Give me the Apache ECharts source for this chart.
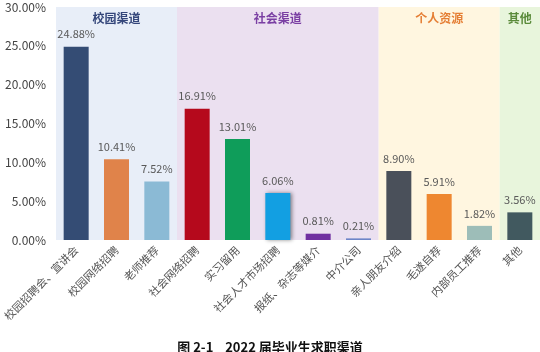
<!DOCTYPE html>
<html>
<head>
<meta charset="utf-8">
<script src="https://cdn.jsdelivr.net/npm/echarts@6/dist/echarts.min.js"></script>
<style>
  html, body { margin: 0; padding: 0; background: #fff; }
  #chart { width: 540px; height: 352px; }
</style>
</head>
<body>
<div id="chart"></div>
<script>
// 求职渠道
const categories = [
  "校园招聘会、宣讲会", "校园网络招聘", "老师推荐",
  "社会网络招聘", "实习留用", "社会人才市场招聘", "报纸、杂志等媒介", "中介公司",
  "亲人朋友介绍", "毛遂自荐", "内部员工推荐",
  "其他"
];
const values = [24.88, 10.41, 7.52, 16.91, 13.01, 6.06, 0.81, 0.21, 8.90, 5.91, 1.82, 3.56];
const barColors = [
  "#344c74", "#e0834a", "#8bbad5",
  "#b5091c", "#0f9d5a", "#129fe2", "#7030a0", "#6e85c8",
  "#4a505a", "#ee8730", "#9dbdb8",
  "#41595f"
];
// 分组背景
const groupNames = ["校园渠道", "社会渠道", "个人资源", "其他"];
const groupCounts = [3, 5, 3, 1];
const groupBg = ["#e8eef8", "#ebe0f0", "#fff6e0", "#e8f5dc"];
const groupColors = ["#34467a", "#7a3fa3", "#e57e34", "#5a8a3a"];

const font = "'Noto Sans CJK SC', 'Noto Sans', sans-serif";
const chart = echarts.init(document.getElementById("chart"));

let areas = [];
let start = 0;
groupNames.forEach((name, i) => {
  areas.push([
    {
      name: name,
      xAxis: start,
      itemStyle: { color: groupBg[i] },
      label: { color: groupColors[i] }
    },
    { xAxis: start + groupCounts[i] }
  ]);
  start += groupCounts[i];
});

const option = {
  animation: false,
  textStyle: { fontFamily: font },
  title: {
    text: "图 2-1    2022 届毕业生求职渠道",
    left: "center",
    top: 336,
    textStyle: { fontSize: 13, fontWeight: "bold", color: "#111", fontFamily: font }
  },
  grid: { left: 56, right: 0, top: 7, bottom: 112 },
  xAxis: [
    {
      type: "category",
      data: categories,
      axisLine: { show: false },
      axisTick: { show: false },
      axisLabel: { rotate: 45, fontSize: 11, color: "#555", interval: 0, margin: 8, fontFamily: font }
    },
    { type: "value", min: 0, max: categories.length, show: false }
  ],
  yAxis: {
    type: "value",
    min: 0,
    max: 30,
    interval: 5,
    splitLine: { show: false },
    axisLine: { show: false },
    axisTick: { show: false },
    axisLabel: {
      fontSize: 12,
      color: "#444",
      margin: 10,
      fontFamily: font,
      formatter: (v) => v.toFixed(2) + "%"
    }
  },
  series: [
    {
      type: "line",
      xAxisIndex: 1,
      data: [],
      silent: true,
      markArea: {
        silent: true,
        label: { position: "insideTop", distance: 5, fontSize: 12, fontWeight: "bold", fontFamily: font },
        data: areas
      }
    },
    {
      type: "bar",
      barWidth: 25,
      data: values.map((v, i) => {
        const item = { value: v, itemStyle: { color: barColors[i] } };
        if (i === 5) {
          item.itemStyle.shadowBlur = 4;
          item.itemStyle.shadowColor = "rgba(0,0,0,0.45)";
          item.itemStyle.shadowOffsetX = 2;
        }
        return item;
      }),
      label: {
        show: true,
        position: "top",
        distance: 7,
        fontSize: 11,
        color: "#595959",
        fontFamily: font,
        formatter: (p) => p.value.toFixed(2) + "%"
      }
    }
  ]
};
chart.setOption(option);
</script>
</body>
</html>
